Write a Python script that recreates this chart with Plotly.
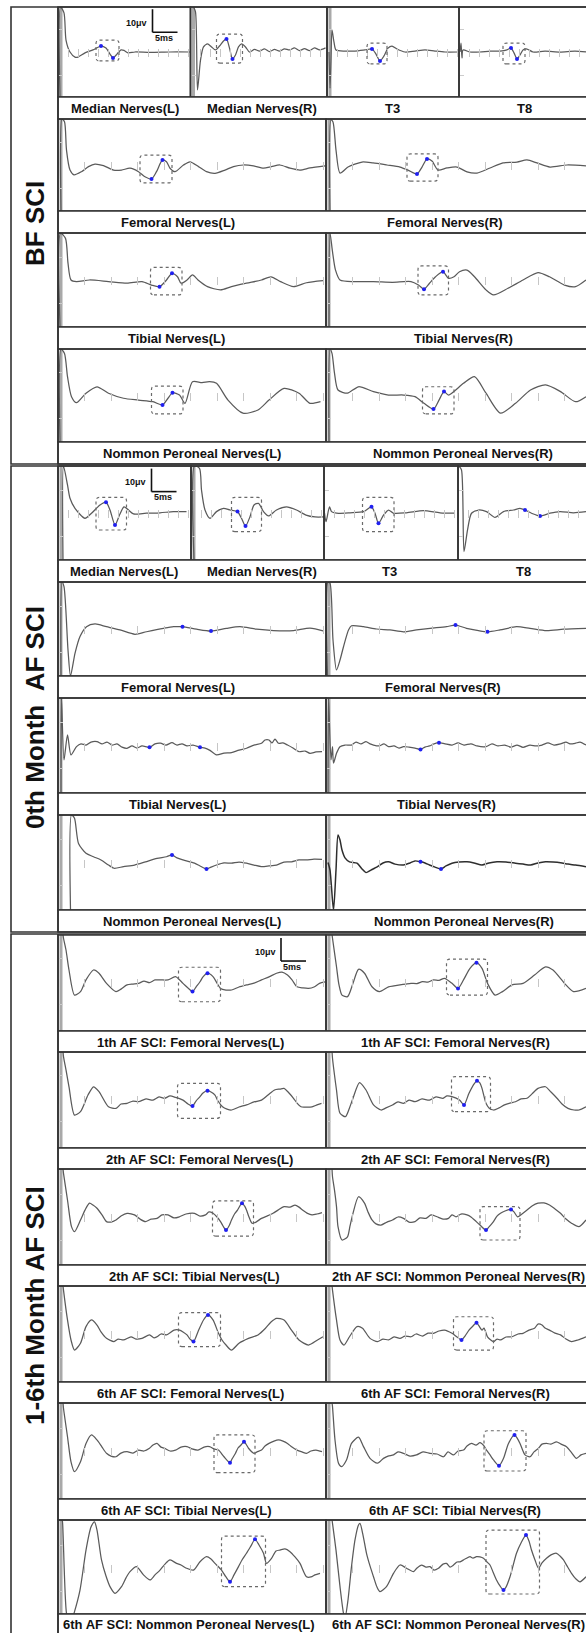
import plotly.graph_objects as go

W, H = 586, 1633
PX_PER_MS = 5.0   # horizontal scale shared by every recording
PX_PER_UV = 2.3   # vertical scale shared by every recording
SCALE_UV = 10     # calibration bar height, µV
SCALE_MS = 5      # calibration bar length, ms

# ---------------- recordings: (time in ms from panel edge, amplitude in µV) ----------------
# BF SCI
S1_MEDIAN_L = [(0.4, -19.6), (0.5, 19.6), (1.2, 17.0), (1.6, 5.2), (2.4, 0.0), (3.4, -2.2), (4.0, -2.2), (5.4, -0.4),
               (7.0, 0.9), (8.6, 2.6), (9.6, 1.7), (10.4, -0.9), (11.0, -2.6), (11.8, -0.9), (12.6, 0.9), (13.2, 0.7),
               (14.0, -0.4), (15.4, 0.0), (18.4, -0.2), (22.4, 0.0), (26.4, 0.0)]
S1_MEDIAN_R = [(0.6, 19.6), (1.0, 17.4), (1.4, -16.5), (2.0, -3.5), (2.6, 2.2), (3.4, 3.5), (4.2, 2.2), (5.0, 0.9),
               (5.8, 2.6), (6.6, 4.8), (7.2, 5.7), (7.8, 1.7), (8.4, -3.0), (9.0, -1.3), (9.6, 2.2), (10.2, 3.5),
               (11.0, 2.2), (11.8, 0.0), (12.8, 1.1), (13.8, 0.4), (14.8, 1.4), (15.8, 0.2), (16.8, 1.1), (17.8, 0.4),
               (18.8, 1.4), (19.8, 0.9), (20.8, 1.8), (21.8, 0.6), (22.8, 1.5), (23.8, 0.6), (24.8, 1.8), (25.8, 0.9),
               (27.0, 1.8)]
S1_T3 = [(0.4, 0.0), (0.6, -15.7), (0.8, -3.5), (1.0, 9.6), (1.4, 4.3), (1.8, 0.9), (3.6, 0.4), (5.6, 0.4), (7.6, 0.9),
         (9.0, 1.3), (9.8, -0.9), (10.6, -3.9), (11.4, -1.7), (12.2, 1.7), (13.0, 2.6), (14.0, 1.3), (15.6, 0.0),
         (17.6, 0.4), (19.6, 0.9), (21.6, 0.4), (23.6, 0.0), (26.2, 0.0)]
S1_T8 = [(0.2, 0.0), (0.4, 3.9), (0.6, -2.6), (0.8, 0.9), (2.2, 0.0), (4.2, 0.0), (6.2, 0.4), (8.2, 0.4), (9.6, 0.9),
         (10.4, 1.7), (11.0, -0.4), (11.6, -3.0), (12.2, -1.3), (12.8, 0.9), (13.6, 1.3), (14.8, 0.0), (17.2, 0.4),
         (20.2, 0.0), (23.2, 0.4), (25.4, 0.0)]
S1_FEMORAL_L = [(0.6, -20.0), (0.8, 20.0), (1.3, 18.8), (1.7, 6.5), (2.4, -2.2), (3.2, -4.3), (4.7, -2.9), (6.1, -0.7),
                (7.4, 0.4), (9.1, -0.3), (11.1, -2.2), (12.7, -2.2), (14.4, -1.4), (16.1, -2.9), (17.4, -5.1),
                (18.7, -6.1), (19.7, -2.9), (20.9, 2.2), (21.7, 1.4), (22.4, -1.4), (23.4, -2.9), (25.1, 0.0),
                (26.4, 1.4), (28.1, -0.7), (29.7, -2.9), (31.4, -3.6), (33.4, -2.2), (35.1, -0.7), (37.1, 0.0),
                (39.1, -0.4), (41.1, -1.4), (42.7, -0.7), (44.4, 0.0), (46.4, -1.4), (48.4, -2.2), (50.4, -1.3),
                (53.4, -0.4)]
S1_FEMORAL_R = [(0.8, -20.0), (1.0, 19.6), (1.4, 18.7), (2.0, 6.5), (2.8, -3.5), (4.4, -0.9), (7.2, 1.3), (9.4, 0.9),
                (12.2, 0.0), (14.8, -0.9), (16.4, -2.2), (18.2, -3.9), (19.2, -0.9), (20.2, 2.6), (21.2, 1.7),
                (22.4, -2.2), (24.2, -1.3), (26.2, -0.9), (28.2, -3.0), (30.2, -3.5), (32.8, -1.3), (35.4, 0.9),
                (38.2, 1.3), (40.2, 2.2), (42.2, 0.9), (44.8, -0.9), (48.2, 0.0), (52.0, -0.4)]
S1_TIBIAL_L = [(0.4, -20.4), (0.5, 20.4), (1.5, 18.1), (2.0, 7.3), (2.6, 0.0), (3.7, -0.7), (6.3, 0.0), (10.1, -0.7),
               (13.8, -1.4), (16.8, -0.7), (18.7, -2.2), (20.3, -2.9), (21.7, 0.0), (22.8, 2.9), (23.9, 1.4),
               (24.6, -1.4), (25.8, 0.0), (26.9, 2.2), (28.0, 0.0), (29.9, -2.9), (32.5, -4.3), (34.7, -2.9),
               (37.7, -1.4), (40.7, 0.0), (42.6, 1.4), (44.5, -0.7), (47.1, -2.9), (49.7, -1.2), (53.0, -0.3)]
S1_TIBIAL_R = [(0.6, -20.4), (0.8, 20.4), (1.3, 12.3), (1.9, 4.3), (2.8, 0.0), (5.8, -0.7), (9.5, -0.7), (13.3, -1.0),
               (17.0, -0.7), (18.5, -2.2), (19.6, -4.0), (20.7, -1.4), (21.9, 1.4), (23.4, 3.6), (24.5, 0.7),
               (25.6, 1.4), (26.7, 3.6), (28.2, 4.3), (29.7, 1.4), (32.0, -4.3), (33.5, -6.5), (36.4, -3.6),
               (39.4, 0.0), (42.4, 3.2), (44.7, 1.4), (47.7, -2.2), (49.9, -2.9), (52.0, 0.0)]
S1_PERONEAL_L = [(0.4, -20.2), (0.6, 20.2), (1.3, 18.3), (1.9, 8.2), (2.7, -0.5), (3.7, -3.1), (5.6, 1.0), (7.8, 3.8),
                 (10.1, 1.0), (13.1, -1.2), (16.1, -2.0), (19.0, -2.7), (20.9, -4.1), (22.0, -1.2), (22.9, 1.2),
                 (24.3, 0.2), (25.4, -3.4), (26.9, 6.0), (28.8, 5.6), (30.3, 6.0), (31.7, 5.3), (34.0, -2.0),
                 (37.0, -7.7), (40.0, -6.3), (42.2, -2.0), (45.2, 3.1), (48.2, 1.0), (50.4, -3.4), (52.5, -2.7)]
S1_PERONEAL_R = [(0.6, -20.2), (0.8, 20.2), (1.2, 18.3), (1.7, 9.7), (2.4, 2.4), (4.3, 1.0), (6.5, 3.8), (9.5, 1.7),
                 (12.5, 0.2), (15.5, 0.2), (17.8, -0.5), (19.6, -3.4), (21.5, -5.9), (22.6, -2.0), (23.6, 1.7),
                 (24.5, 0.2), (27.5, 5.3), (29.7, 8.2), (32.0, 1.0), (34.9, -7.7), (37.9, -3.4), (40.9, 2.4),
                 (43.9, 4.6), (46.9, 1.7), (49.9, -2.7), (52.0, -0.5)]

# 0th month AF SCI
S2_MEDIAN_L = [(1.0, -20.4), (1.1, 20.4), (1.9, 12.2), (2.4, 6.4), (3.4, 2.0), (5.4, -2.3), (6.7, -0.1), (8.4, 3.5),
               (9.6, 4.7), (10.4, 1.3), (11.4, -5.2), (12.3, -0.9), (13.2, 2.7), (14.1, 1.3), (15.1, -0.4),
               (17.7, -0.1), (20.4, 0.1), (23.1, 0.6), (25.7, 0.6)]
S2_MEDIAN_R = [(0.6, -20.4), (0.7, 20.4), (1.7, 19.4), (2.1, 10.0), (2.8, 1.3), (3.8, -2.3), (5.1, 0.6), (6.5, 2.0),
               (7.8, 1.3), (9.3, 0.6), (10.1, -2.3), (10.9, -5.7), (11.8, -1.6), (12.6, 3.5), (13.5, 4.2), (14.5, 0.6),
               (15.5, -1.3), (17.1, 1.3), (19.1, 2.7), (21.1, 1.3), (23.0, -0.9), (24.8, -1.7), (26.6, -1.7)]
S2_T3 = [(0.1, 0.0), (0.4, -3.8), (1.1, 2.7), (1.5, 0.6), (2.5, -0.1), (5.2, 0.1), (7.9, 0.6), (9.5, 2.7), (10.2, -0.1),
         (10.9, -4.5), (11.9, -0.9), (12.9, 1.3), (13.9, -0.1), (16.5, 0.1), (19.9, 1.0), (23.2, 0.1), (26.2, -0.1)]
S2_T8 = [(0.2, 20.4), (0.7, 18.7), (1.2, -16.8), (1.9, -7.4), (2.7, -0.1), (4.1, 1.3), (5.7, 0.6), (7.4, -1.9),
         (9.1, 0.6), (11.1, 1.3), (12.4, 2.0), (13.4, 1.3), (14.7, -0.1), (16.4, -1.3), (18.4, -0.1), (20.4, 0.6),
         (23.1, 0.1), (25.6, 0.6)]
S2_FEMORAL_L = [(0.6, -20.4), (0.8, 20.4), (1.2, 18.4), (2.0, -9.1), (2.5, -20.4), (3.4, -10.6), (4.4, -3.3),
                (5.7, 1.0), (7.4, 2.2), (9.7, 1.0), (12.4, -0.4), (15.4, -2.3), (17.7, -1.2), (21.1, 0.3), (23.1, 1.0),
                (24.9, 1.0), (27.7, -0.1), (30.6, -0.9), (33.7, 0.3), (36.4, 1.0), (39.7, -0.1), (43.1, -0.7),
                (47.1, -0.7), (50.4, 0.4), (53.2, -0.9)]
S2_FEMORAL_R = [(0.3, -20.4), (0.4, 20.4), (0.8, 19.9), (1.4, -4.8), (2.1, -17.8), (2.8, -13.5), (3.5, -7.7),
                (4.5, -0.4), (5.1, 1.4), (7.5, 1.0), (10.1, 0.0), (12.8, -0.4), (15.5, -1.2), (18.1, -0.4), (20.8, 0.3),
                (24.1, 1.0), (25.9, 1.7), (28.1, 0.3), (30.5, -0.7), (32.3, -1.2), (34.8, -0.4), (38.1, 1.0),
                (40.8, 0.3), (44.1, -0.7), (47.5, -0.1), (52.0, 0.3)]
S2_TIBIAL_L = [(0.6, -20.7), (0.7, 20.7), (1.2, -6.3), (1.9, 4.6), (2.6, -4.1), (3.7, -0.5), (4.6, 0.7), (5.6, 0.2),
               (6.6, 1.5), (7.8, 1.7), (8.8, 0.7), (9.8, 1.5), (10.8, 0.2), (11.8, 0.7), (12.8, -0.7), (13.8, -1.2),
               (14.8, -0.2), (15.8, -1.1), (16.8, -0.2), (18.3, -0.8), (19.4, 0.7), (20.5, 1.0), (21.6, 0.2),
               (22.8, 1.2), (23.8, 0.2), (24.8, 0.7), (25.8, -0.2), (27.0, 0.2), (28.4, -0.8), (29.4, -1.1),
               (30.3, -2.0), (31.7, -4.1), (33.2, -3.3), (34.7, -3.1), (36.2, -2.0), (37.7, -1.2), (39.2, 0.2),
               (40.7, 1.0), (41.4, 2.4), (42.2, 2.4), (42.8, 1.1), (43.4, 2.8), (44.1, 1.0), (45.0, 1.1), (45.9, 0.2),
               (47.0, -1.1), (48.2, -2.7), (49.4, -2.4), (50.4, -3.4), (51.6, -2.8), (52.8, -2.7)]
S2_TIBIAL_R = [(0.4, -20.7), (0.5, 20.7), (1.0, -6.3), (1.3, -0.5), (1.5, -7.7), (2.1, -3.4), (2.8, -0.5), (3.8, 0.2),
               (5.1, 0.2), (6.0, 1.5), (7.0, 0.7), (8.0, 1.7), (8.8, 0.7), (9.5, 0.2), (10.6, -0.2), (11.6, 0.7),
               (12.5, -0.5), (13.6, -0.2), (14.6, -1.1), (15.5, -0.5), (16.6, -0.7), (17.8, -1.1), (18.9, -1.7),
               (19.8, -0.7), (20.7, -0.2), (21.6, 0.7), (22.6, 1.2), (23.8, 0.7), (25.2, 0.2), (26.4, 1.1),
               (27.6, 0.2), (29.0, 0.7), (30.2, -0.2), (32.0, -0.5), (33.2, 0.7), (34.4, -0.2), (35.7, 0.2),
               (37.0, -0.7), (38.2, 0.2), (39.4, -0.8), (40.8, 0.2), (42.0, -0.2), (43.2, 0.2), (44.4, 1.1),
               (45.6, 0.2), (46.9, 0.7), (48.0, 1.5), (48.8, 0.7), (49.9, 1.0), (50.8, 1.5), (52.0, 0.2)]
S2_PERONEAL_L = [(2.5, -20.7), (2.7, 20.7), (3.3, 19.2), (4.1, 8.3), (5.6, 4.0), (7.1, 2.5), (8.6, 1.1), (10.1, -1.1),
                 (11.2, -2.5), (13.1, -1.8), (15.3, -1.1), (17.5, 0.3), (19.8, 1.8), (21.7, 2.5), (22.8, 3.3),
                 (23.8, 2.0), (25.0, 1.1), (27.3, -0.3), (28.4, -1.5), (29.7, -2.8), (30.6, -2.0), (31.7, -1.1),
                 (33.2, -0.2), (34.7, -0.3), (36.2, 0.2), (37.7, -0.3), (39.2, -1.1), (40.7, -1.8), (42.2, -1.5),
                 (43.7, -1.1), (45.2, 0.2), (46.7, 0.3), (48.2, 1.1), (49.7, 1.1), (51.2, 1.5), (52.8, 1.4)]
S2_PERONEAL_R = [(0.4, 0.0), (0.8, -3.3), (1.5, -20.7), (2.0, -3.3), (2.4, 12.0), (2.8, 9.8), (3.2, 5.4), (3.8, 2.0),
                 (4.7, 0.3), (6.2, -0.3), (7.2, -2.8), (8.0, -4.4), (9.0, -3.3), (10.3, -1.8), (11.4, -0.2),
                 (12.5, 0.3), (13.8, -0.7), (15.5, -1.1), (16.8, -0.2), (17.8, 0.7), (18.9, 0.3), (19.8, -0.2),
                 (20.7, -1.1), (21.8, -2.0), (23.0, -2.8), (24.0, -1.5), (25.2, -0.3), (26.6, 0.2), (28.2, 0.3),
                 (29.6, -0.2), (31.2, -1.1), (32.6, -0.2), (34.2, 0.3), (36.0, 0.2), (37.9, -0.3), (39.4, -0.7),
                 (40.9, -1.1), (42.4, -0.2), (43.9, 0.3), (45.4, 0.2), (46.9, -0.1), (48.4, -0.7), (49.9, -1.1),
                 (52.0, -1.8)]

# 1-6th month AF SCI
S3_M1_FEMORAL_L = [(1.0, 20.5), (1.1, 18.8), (1.6, 13.7), (2.2, 5.0), (3.3, -5.9), (4.5, -4.4), (5.6, 0.7), (7.1, 5.0),
                   (8.2, 3.6), (9.7, -0.8), (11.6, -4.4), (12.6, -3.3), (13.8, -1.5), (15.0, -1.1), (16.1, -0.8),
                   (17.2, 0.2), (18.3, -0.5), (19.4, 0.7), (20.5, 0.7), (22.0, 0.7), (23.5, 2.1), (25.0, -0.8),
                   (26.0, -2.8), (26.9, -4.4), (27.6, -2.4), (28.4, -0.1), (29.0, 2.0), (29.9, 3.6), (31.0, 2.1),
                   (31.8, -0.7), (32.5, -3.0), (33.6, -3.7), (34.7, -3.7), (36.2, -2.4), (37.7, -1.5), (39.2, -0.7),
                   (40.7, 0.7), (42.2, 2.0), (43.7, 3.6), (44.8, 4.1), (45.9, 2.8), (46.8, 0.7), (47.8, -2.3),
                   (49.0, -2.8), (50.1, -3.0), (51.2, -2.4), (52.3, -0.8), (53.4, -0.2)]
S3_M1_FEMORAL_R = [(1.2, 20.5), (1.3, 18.8), (2.1, 6.4), (2.6, -1.5), (3.2, -5.9), (4.3, -6.6), (5.4, -0.8), (6.5, 5.3),
                   (7.7, 3.6), (9.2, -2.3), (10.7, -4.4), (12.5, -2.3), (13.6, -1.9), (14.8, -1.5), (16.0, -1.1),
                   (17.0, -0.8), (18.2, -0.9), (19.3, -0.1), (20.4, -0.3), (21.5, 0.7), (22.6, 0.5), (23.7, 1.4),
                   (25.2, -0.8), (26.4, -3.0), (27.5, 0.7), (28.8, 5.7), (30.1, 8.2), (31.2, 5.7), (32.3, -0.8),
                   (33.8, -5.9), (35.3, -4.4), (37.2, -1.5), (39.4, -0.8), (41.7, 2.8), (43.9, 6.4), (45.4, 5.0),
                   (47.7, -0.8), (49.5, -4.4), (52.0, -3.0)]
S3_M2_FEMORAL_L = [(1.0, 20.5), (1.1, 18.2), (1.6, 12.4), (2.2, 5.1), (3.3, -7.2), (4.5, -5.7), (6.0, 1.5), (7.1, 5.1),
                   (8.2, 3.0), (10.1, -3.6), (11.6, -4.3), (12.6, -2.4), (13.8, -2.1), (15.0, -1.1), (16.1, -1.4),
                   (17.6, -0.2), (19.0, -0.7), (20.2, 0.7), (21.3, 0.1), (22.4, 1.1), (23.5, 0.5), (25.0, -0.7),
                   (26.0, -2.4), (26.9, -3.3), (27.6, -1.1), (28.4, 0.8), (29.0, 2.4), (29.9, 3.4), (30.6, 2.8),
                   (31.4, 1.5), (32.0, -1.1), (32.9, -3.6), (33.8, -4.6), (34.7, -5.0), (36.2, -3.7), (37.7, -2.8),
                   (39.2, -1.5), (40.7, -0.7), (42.0, 1.5), (43.3, 3.7), (44.4, 4.1), (45.2, 4.4), (46.2, 2.4),
                   (47.1, 0.1), (47.8, -2.0), (48.6, -3.6), (49.6, -3.7), (50.8, -3.6), (51.8, -2.8), (52.7, -2.1)]
S3_M2_FEMORAL_R = [(1.2, 20.5), (1.3, 17.5), (1.7, 10.2), (2.1, 3.7), (2.8, -6.4), (3.9, -7.9), (4.7, -4.1),
                   (5.4, 0.1), (6.7, 6.9), (8.0, 3.7), (9.5, -2.8), (11.0, -5.0), (12.0, -4.1), (13.3, -2.8),
                   (14.4, -1.5), (15.5, -2.1), (16.6, -0.7), (17.8, -1.4), (19.2, -0.2), (20.7, -0.7), (22.0, 0.7),
                   (23.4, 0.1), (24.2, 1.1), (25.2, 0.8), (26.7, -0.7), (27.6, -2.8), (28.6, 2.3), (29.7, 6.6),
                   (30.2, 7.7), (30.8, 6.7), (31.2, 4.4), (32.0, -2.1), (32.6, -4.1), (33.5, -5.0), (34.6, -4.1),
                   (35.7, -2.8), (36.8, -2.0), (37.9, -1.4), (39.0, -0.2), (40.2, 0.1), (41.2, 2.0), (42.4, 4.4),
                   (43.9, 5.1), (45.0, 2.8), (46.2, 0.1), (47.2, -2.4), (48.4, -4.3), (49.6, -5.0), (50.6, -5.0),
                   (52.0, -3.6)]
S3_M2_TIBIAL_L = [(1.0, 21.0), (1.1, 19.0), (1.9, 7.4), (2.7, -4.2), (3.3, -6.4), (4.5, -1.3), (5.4, 3.0), (6.3, 6.0),
                  (7.0, 5.2), (7.8, 3.8), (8.8, 0.9), (9.7, -2.0), (10.6, -2.2), (11.6, -1.3), (12.6, 0.4),
                  (13.8, 1.6), (15.3, 0.9), (16.4, -0.9), (17.5, -2.0), (18.6, -0.9), (19.8, -0.6), (20.8, 0.9),
                  (22.0, 0.9), (23.2, -0.4), (24.3, 0.1), (25.6, 1.3), (27.3, 1.6), (28.4, 0.4), (29.5, 0.9),
                  (30.2, 2.2), (31.0, 1.6), (31.8, 0.0), (32.5, -2.0), (33.0, -3.9), (33.6, -5.7), (34.2, -3.9),
                  (34.7, -1.3), (35.3, 1.3), (35.9, 3.0), (36.8, 6.0), (37.3, 4.8), (37.7, 3.0), (38.2, 0.0),
                  (38.8, -2.7), (39.6, -2.2), (40.7, -0.6), (41.8, 0.4), (43.0, 1.6), (44.0, 3.0), (45.2, 4.5),
                  (46.4, 4.3), (47.4, 5.2), (48.2, 4.3), (48.9, 3.0), (49.8, 1.7), (50.8, 0.9), (51.8, 1.3),
                  (52.8, 1.9)]
S3_M2_PERONEAL_R = [(1.2, 21.0), (1.3, 17.5), (1.7, 11.7), (2.1, 4.5), (2.4, -4.2), (3.2, -10.0), (4.3, -8.6),
                    (4.8, -3.9), (5.4, 1.6), (6.5, 8.8), (7.7, 6.0), (8.4, 2.2), (9.2, -1.3), (10.0, -3.0),
                    (11.0, -3.5), (12.2, -2.2), (13.3, -1.3), (14.4, 0.0), (15.5, -0.6), (16.6, -2.2), (17.8, -2.0),
                    (18.8, -0.4), (20.0, -0.6), (21.0, 0.9), (22.2, 0.1), (23.4, -0.9), (24.5, -0.6), (25.2, 0.9),
                    (26.0, 0.1), (27.0, 1.3), (28.2, 0.9), (29.0, 0.0), (29.7, -1.3), (30.8, -3.5), (32.0, -5.7),
                    (32.6, -4.3), (33.5, -2.0), (34.2, 0.4), (34.9, 1.6), (35.8, 2.6), (37.0, 3.3), (37.6, 2.2),
                    (38.3, 0.1), (39.2, 1.3), (40.2, 3.0), (41.2, 4.8), (42.4, 6.0), (43.6, 6.1), (44.7, 5.2),
                    (45.8, 3.5), (46.9, 1.6), (48.0, -0.9), (49.1, -2.7), (50.6, -4.2), (52.0, -1.3)]
S3_M6_FEMORAL_L = [(1.0, 21.0), (1.1, 19.1), (1.9, 6.1), (2.6, -2.6), (3.3, -7.0), (4.5, -4.0), (5.6, 3.2), (6.7, 6.1),
                   (7.8, 3.9), (8.6, 0.9), (9.7, -1.9), (11.2, -3.3), (12.0, -2.2), (13.1, -2.6), (14.6, -1.2),
                   (15.6, -2.2), (16.8, -1.9), (18.3, -0.4), (19.2, -1.7), (19.8, -1.2), (20.6, 0.0), (21.7, -0.4),
                   (23.2, 1.7), (24.3, 1.7), (25.0, 0.9), (25.8, -0.4), (26.4, -2.2), (27.1, -3.3), (28.0, 1.0),
                   (29.1, 6.1), (30.0, 8.3), (31.0, 6.1), (32.1, 0.3), (32.8, -2.6), (33.6, -4.8), (34.7, -7.0),
                   (36.2, -4.0), (38.1, -1.9), (40.0, -0.4), (41.5, 2.5), (42.6, 5.2), (43.7, 6.8), (45.2, 6.1),
                   (46.7, 1.7), (48.2, -2.6), (50.1, -4.8), (51.9, -2.6), (53.0, -1.2)]
S3_M6_FEMORAL_R = [(1.2, 21.0), (1.3, 19.1), (2.1, 6.1), (2.8, -2.6), (3.6, -4.8), (4.7, -1.2), (6.2, 3.2), (7.3, 2.5),
                   (8.8, -1.9), (10.3, -3.3), (11.4, -2.2), (12.5, -2.6), (13.6, -1.3), (14.8, -1.9), (15.8, -0.9),
                   (17.0, -1.2), (18.0, 0.0), (19.3, -0.9), (20.4, 0.4), (21.5, 0.3), (22.6, 1.3), (23.7, 1.7),
                   (25.2, 0.3), (26.2, -1.3), (27.1, -2.6), (27.8, -0.9), (28.6, 1.7), (29.4, 3.5), (30.1, 4.9),
                   (30.6, 3.5), (31.2, 1.7), (31.6, 2.6), (32.3, -1.2), (33.5, -3.3), (34.2, -2.2), (34.9, -2.6),
                   (36.0, -1.3), (37.2, -1.2), (38.4, 0.0), (39.4, 0.3), (40.6, 1.7), (41.7, 2.5), (42.4, 4.3),
                   (43.2, 3.9), (43.8, 2.6), (44.7, 1.7), (45.8, 0.4), (46.9, -0.4), (48.0, -2.2), (49.1, -3.3),
                   (50.4, -2.6), (52.0, -1.2)]
S3_M6_TIBIAL_L = [(1.0, 21.0), (1.1, 18.6), (1.9, 6.2), (2.6, -4.7), (3.3, -9.0), (4.5, -4.7), (5.6, 3.3), (6.7, 7.0),
                  (7.8, 4.8), (8.8, 1.7), (9.7, -1.0), (10.6, -2.2), (11.6, -2.5), (12.6, -0.9), (13.8, -0.3),
                  (15.0, -0.9), (16.1, 0.4), (17.2, 0.0), (18.3, 1.2), (19.0, 2.6), (19.8, 3.3), (20.6, 1.7),
                  (21.3, 1.2), (22.4, 0.0), (23.5, 0.4), (24.6, 1.7), (25.8, 1.9), (26.8, 0.9), (28.0, 0.4),
                  (29.2, 1.7), (30.3, 1.9), (31.2, 0.9), (32.1, 0.4), (33.2, -2.5), (34.4, -5.1), (34.8, -3.5),
                  (35.5, -1.0), (36.0, 1.3), (36.6, 2.6), (37.2, 4.0), (37.6, 3.0), (38.1, 1.2), (39.2, -1.0),
                  (39.8, -0.4), (40.7, 0.4), (41.4, 2.2), (42.2, 3.3), (43.2, 4.3), (44.1, 4.8), (45.0, 4.3),
                  (45.9, 3.3), (46.8, 1.7), (47.8, 0.4), (48.8, -0.4), (49.7, -1.0), (50.6, 0.0), (51.6, 0.4),
                  (52.8, -0.3)]
S3_M6_TIBIAL_R = [(1.2, 21.0), (1.3, 19.3), (1.8, 4.8), (2.5, -5.3), (3.1, -6.8), (4.1, -3.9), (5.1, 3.3), (6.5, 6.0),
                  (7.5, 1.9), (8.8, -3.2), (10.3, -5.3), (11.5, -3.2), (12.4, -2.2), (13.5, -1.7), (14.4, -0.4),
                  (15.5, -1.0), (16.8, -2.2), (18.1, -1.7), (19.4, -0.4), (20.8, -1.0), (22.2, -1.3), (23.5, -2.5),
                  (24.4, -0.4), (25.5, -1.7), (26.4, 0.0), (27.5, 0.4), (28.2, 2.2), (29.1, 3.3), (30.0, 2.6),
                  (30.8, 3.6), (31.6, 2.2), (32.1, 0.4), (32.8, -1.7), (33.5, -3.9), (34.6, -6.4), (35.5, -3.2),
                  (36.5, 3.3), (37.7, 7.0), (38.2, 5.7), (38.8, 3.3), (39.8, -1.7), (40.8, -2.5), (41.6, -0.4),
                  (42.5, 1.2), (43.2, 3.0), (44.1, 3.3), (45.0, 3.0), (46.1, 4.0), (47.0, 3.0), (48.1, 1.9),
                  (49.0, -0.4), (50.1, -3.2), (51.0, -1.7), (52.0, -1.0)]
S3_M6_PERONEAL_L = [(0.8, 21.0), (0.9, 20.1), (1.7, -19.7), (2.4, -24.8), (3.2, -19.7), (4.4, -9.6), (5.6, 7.8),
                    (6.6, 17.8), (7.3, 20.1), (7.8, 16.5), (8.7, 3.5), (9.6, -3.5), (10.4, -8.1), (11.4, -11.0),
                    (12.7, -8.1), (13.6, -4.3), (14.4, -1.6), (15.7, 0.6), (17.1, -3.0), (18.4, -5.2), (19.4, -3.0),
                    (20.4, -0.9), (21.4, 1.7), (22.4, 3.5), (23.7, 2.0), (24.6, 1.3), (25.7, -0.1), (27.1, -0.9),
                    (28.4, 2.7), (29.7, 4.9), (30.6, 3.9), (31.4, 2.0), (32.7, -0.9), (33.6, -3.9), (34.4, -6.0),
                    (35.2, -3.0), (36.1, 0.6), (36.8, 3.5), (37.7, 6.4), (38.6, 9.6), (39.4, 12.5), (40.2, 10.0),
                    (41.1, 6.4), (41.7, 2.0), (42.7, 4.2), (43.6, 7.4), (44.4, 7.8), (45.4, 8.3), (46.4, 7.1),
                    (47.4, 4.8), (48.4, 2.0), (49.7, -3.8), (50.6, -3.9), (51.4, -3.0), (52.4, -2.3)]
S3_M6_PERONEAL_R = [(1.2, 21.0), (1.3, 19.4), (2.0, 7.8), (2.8, -8.1), (3.5, -19.7), (3.8, -21.7), (4.4, -13.9),
                    (5.1, 0.6), (5.8, 12.2), (6.5, 18.7), (6.8, 19.4), (7.4, 14.3), (8.1, 6.4), (8.8, 0.9),
                    (9.5, -3.8), (10.2, -8.3), (10.8, -10.3), (12.1, -8.1), (13.5, -2.3), (14.8, 1.3), (16.1, -0.1),
                    (17.5, -1.6), (18.2, 0.0), (19.1, 1.3), (20.0, 0.4), (20.8, 0.6), (21.6, -0.9), (22.5, -0.1),
                    (23.4, 1.7), (24.1, 2.0), (24.8, 0.4), (25.5, 1.3), (26.2, 2.6), (26.8, 2.7), (27.8, 3.9),
                    (28.8, 4.9), (29.4, 4.3), (30.1, 4.9), (30.8, 4.8), (31.5, 4.2), (32.2, 2.6), (32.8, 1.3),
                    (33.4, -1.7), (34.1, -5.2), (34.8, -7.8), (35.5, -9.6), (36.0, -8.3), (36.8, -3.8), (37.4, 0.9),
                    (38.1, 6.4), (39.0, 10.9), (40.0, 14.3), (40.6, 11.7), (41.1, 7.8), (41.8, 3.5), (42.5, -0.1),
                    (43.2, 2.2), (44.1, 4.2), (45.0, 5.7), (46.1, 6.4), (46.8, 5.2), (47.5, 3.5), (48.2, 0.9),
                    (49.1, -2.3), (50.0, -4.8), (50.8, -6.0), (52.0, -3.8)]

# ---------------- marked latencies (ms) and response windows [t0, t1, v0, v1] ----------------
PEAKS = {
    "S1_MEDIAN_L": [8.6, 11.0], "S1_MEDIAN_R": [7.2, 8.4], "S1_T3": [9.0, 10.6], "S1_T8": [10.4, 11.6],
    "S1_FEMORAL_L": [18.7, 20.9], "S1_FEMORAL_R": [18.2, 20.2], "S1_TIBIAL_L": [20.3, 22.8],
    "S1_TIBIAL_R": [19.6, 23.4], "S1_PERONEAL_L": [20.9, 22.9], "S1_PERONEAL_R": [21.5, 23.6],
    "S2_MEDIAN_L": [9.6, 11.4], "S2_MEDIAN_R": [9.3, 10.9], "S2_T3": [9.5, 10.9], "S2_T8": [13.4, 16.4],
    "S2_FEMORAL_L": [24.9, 30.6], "S2_FEMORAL_R": [25.9, 32.3], "S2_TIBIAL_L": [18.3, 28.4],
    "S2_TIBIAL_R": [18.9, 22.6], "S2_PERONEAL_L": [22.8, 29.7], "S2_PERONEAL_R": [18.9, 23.0],
    "S3_M1_FEMORAL_L": [26.9, 29.9], "S3_M1_FEMORAL_R": [26.4, 30.1], "S3_M2_FEMORAL_L": [26.9, 29.9],
    "S3_M2_FEMORAL_R": [27.6, 30.2], "S3_M2_TIBIAL_L": [33.6, 36.8], "S3_M2_PERONEAL_R": [32.0, 37.0],
    "S3_M6_FEMORAL_L": [27.1, 30.0], "S3_M6_FEMORAL_R": [27.1, 30.1], "S3_M6_TIBIAL_L": [34.4, 37.2],
    "S3_M6_TIBIAL_R": [34.6, 37.7], "S3_M6_PERONEAL_L": [34.4, 39.4], "S3_M6_PERONEAL_R": [35.5, 40.0],
}
WINDOWS = {
    "S1_MEDIAN_L": [7.6, 12.2, -3.9, 5.2], "S1_MEDIAN_R": [5.2, 10.4, -4.8, 7.8], "S1_T3": [8.0, 12.0, -5.2, 3.9],
    "S1_T8": [8.8, 13.2, -5.2, 3.9], "S1_FEMORAL_L": [16.4, 22.8, -7.8, 4.3], "S1_FEMORAL_R": [16.2, 22.4, -7.0, 4.8],
    "S1_TIBIAL_L": [18.5, 24.8, -6.5, 5.5], "S1_TIBIAL_R": [18.4, 24.5, -6.5, 6.1],
    "S1_PERONEAL_L": [18.7, 25.0, -8.0, 4.1], "S1_PERONEAL_R": [19.3, 25.6, -8.0, 3.8],
    "S2_MEDIAN_L": [7.6, 13.7, -7.4, 6.8], "S2_MEDIAN_R": [8.1, 14.1, -8.1, 6.8], "S2_T3": [7.7, 14.0, -8.1, 6.8],
    "S3_M1_FEMORAL_L": [24.1, 32.5, -8.8, 6.2], "S3_M1_FEMORAL_R": [24.1, 32.3, -5.9, 9.7],
    "S3_M2_FEMORAL_L": [23.9, 32.5, -8.6, 6.6], "S3_M2_FEMORAL_R": [25.1, 32.9, -5.7, 9.5],
    "S3_M2_TIBIAL_L": [30.9, 39.1, -8.3, 7.0], "S3_M2_PERONEAL_R": [30.8, 38.8, -10.0, 4.5],
    "S3_M6_FEMORAL_L": [24.1, 32.5, -5.5, 9.3], "S3_M6_FEMORAL_R": [25.5, 33.5, -7.0, 7.5],
    "S3_M6_TIBIAL_L": [31.2, 39.4, -9.4, 7.0], "S3_M6_TIBIAL_R": [31.6, 40.0, -8.7, 8.8],
    "S3_M6_PERONEAL_L": [32.7, 41.5, -8.1, 13.9], "S3_M6_PERONEAL_R": [32.0, 42.7, -11.3, 16.5],
}

# ---------------- panel captions ----------------
S1_LABELS = [["Median Nerves(L)", "Median Nerves(R)", "T3", "T8"], ["Femoral Nerves(L)", "Femoral Nerves(R)"],
             ["Tibial Nerves(L)", "Tibial Nerves(R)"], ["Nommon Peroneal Nerves(L)", "Nommon Peroneal Nerves(R)"]]
S2_LABELS = S1_LABELS
S3_LABELS = [["1th AF SCI: Femoral Nerves(L)", "1th AF SCI: Femoral Nerves(R)"],
             ["2th AF SCI: Femoral Nerves(L)", "2th AF SCI: Femoral Nerves(R)"],
             ["2th AF SCI: Tibial Nerves(L)", "2th AF SCI: Nommon Peroneal Nerves(R)"],
             ["6th AF SCI: Femoral Nerves(L)", "6th AF SCI: Femoral Nerves(R)"],
             ["6th AF SCI: Tibial Nerves(L)", "6th AF SCI: Tibial Nerves(R)"],
             ["6th AF SCI: Nommon Peroneal Nerves(L)", "6th AF SCI: Nommon Peroneal Nerves(R)"]]
SECTION_TITLES = ["BF SCI", "0th Month\u00a0 AF SCI", "1-6th Month AF SCI"]

DATA = {k: v for k, v in globals().items() if k.startswith(("S1_", "S2_", "S3_")) and isinstance(v, list)
        and v and isinstance(v[0], tuple)}

# ---------------- page geometry (pixels) ----------------
# each row: (top, plot bottom, strip bottom, zero line, column edges, recordings, caption centres)
ROWS = [
    (7, 97, 119, 52, [58, 190.5, 327, 459, 590], ["S1_MEDIAN_L", "S1_MEDIAN_R", "S1_T3", "S1_T8"], [125, 262, 392, 524]),
    (119, 211, 233, 165, [58, 326, 590], ["S1_FEMORAL_L", "S1_FEMORAL_R"], [178, 445]),
    (233, 327, 349, 280, [58, 326, 590], ["S1_TIBIAL_L", "S1_TIBIAL_R"], [176, 463]),
    (349, 442, 464, 395.5, [58, 326, 590], ["S1_PERONEAL_L", "S1_PERONEAL_R"], [192, 463]),
    (466, 560, 582, 513, [58, 191, 324, 458, 590], ["S2_MEDIAN_L", "S2_MEDIAN_R", "S2_T3", "S2_T8"], [124, 262, 389, 523]),
    (582, 676, 698, 629, [58, 326, 590], ["S2_FEMORAL_L", "S2_FEMORAL_R"], [178, 443]),
    (698, 793, 815, 745.5, [58, 326, 590], ["S2_TIBIAL_L", "S2_TIBIAL_R"], [177, 446]),
    (815, 910, 932, 862.5, [58, 326, 590], ["S2_PERONEAL_L", "S2_PERONEAL_R"], [192, 464]),
    (935, 1031, 1052, 981.5, [58, 326, 590], ["S3_M1_FEMORAL_L", "S3_M1_FEMORAL_R"], [190, 455]),
    (1052, 1148, 1169, 1098.5, [58, 326, 590], ["S3_M2_FEMORAL_L", "S3_M2_FEMORAL_R"], [199, 455]),
    (1169, 1265, 1286, 1217, [58, 326, 590], ["S3_M2_TIBIAL_L", "S3_M2_PERONEAL_R"], [194, 458]),
    (1286, 1382, 1403, 1334, [58, 326, 590], ["S3_M6_FEMORAL_L", "S3_M6_FEMORAL_R"], [190, 455]),
    (1403, 1499, 1520, 1451, [58, 326, 590], ["S3_M6_TIBIAL_L", "S3_M6_TIBIAL_R"], [186, 455]),
    (1520, 1614, 1640, 1568, [58, 326, 590], ["S3_M6_PERONEAL_L", "S3_M6_PERONEAL_R"], [189, 458]),
]
CAPTIONS = [c for labels in (S1_LABELS, S2_LABELS, S3_LABELS) for c in labels]
SECTIONS = [(7, 464, 224), (466, 932, 718), (934, 1640, 1306)]  # top, bottom, title centre
NO_STIM_BAR = {"S1_T8", "S2_T3", "S2_T8"}
DARK_TRACES = {"S2_PERONEAL_R"}
# calibration bars: recording, bar corner (ms, µV)
CALIBRATION = [("S1_MEDIAN_L", 18.9, 8.6), ("S2_MEDIAN_L", 18.7, 9.3), ("S3_M1_FEMORAL_L", 44.6, 8.9)]

FRAME = "#333333"
TRACE = "#5a5a5a"
PEAK = "#2020f0"
FONT = "Arial, Liberation Sans, sans-serif"


def py(y):
    return 1 - y / H


fig = go.Figure()
shapes, annotations, axes = [], [], {}
refs = {}
n = 0

for (top, pbot, sbot, zero, edges, names, cx), captions in zip(ROWS, CAPTIONS):
    for i, name in enumerate(names):
        n += 1
        x0, x1 = edges[i], edges[i + 1]
        xr = "x" if n == 1 else f"x{n}"
        yr = "y" if n == 1 else f"y{n}"
        refs[name] = (xr, yr)
        xr_vis = min(x1, W)
        axes["xaxis" if n == 1 else f"xaxis{n}"] = dict(
            domain=[x0 / W, xr_vis / W], range=[0, (xr_vis - x0) / PX_PER_MS], anchor="free",
            position=py(zero - 4), showgrid=False, zeroline=False, showline=False, showticklabels=False,
            ticks="outside", ticklen=8, tickwidth=1, tickcolor="#c6c6c6", tick0=0,
            dtick=2.0 if len(names) == 4 else 5.3, fixedrange=True)
        axes["yaxis" if n == 1 else f"yaxis{n}"] = dict(
            domain=[py(pbot), py(top)], range=[(zero - pbot) / PX_PER_UV, (zero - top) / PX_PER_UV],
            anchor="free", position=x0 / W, showgrid=False, zeroline=False, showline=False,
            showticklabels=False, ticks="inside", ticklen=4, tickcolor="#cccccc", tickvals=[-10, 10],
            fixedrange=True)

        pts = DATA[name]
        t = [p[0] for p in pts]
        v = [p[1] for p in pts]
        dark = name in DARK_TRACES
        fig.add_trace(go.Scatter(
            x=t, y=v, mode="lines", xaxis=xr, yaxis=yr, hoverinfo="skip",
            line=dict(color="#2e2e2e" if dark else TRACE, width=1.5 if dark else 1.25, shape="spline",
                      smoothing=0.7)))
        pk = PEAKS[name]
        fig.add_trace(go.Scatter(
            x=pk, y=[v[t.index(p)] for p in pk], mode="markers", xaxis=xr, yaxis=yr, hoverinfo="skip",
            marker=dict(color=PEAK, size=4)))

        # stimulus edge and panel frame
        if name not in NO_STIM_BAR:
            shapes.append(dict(type="line", xref="paper", yref="paper", x0=(x0 + 3) / W, x1=(x0 + 3) / W,
                               y0=py(pbot), y1=py(top), line=dict(color="#a9a9a9", width=3), layer="below"))
        shapes.append(dict(type="rect", xref="paper", yref="paper", x0=x0 / W, x1=x1 / W, y0=py(pbot),
                           y1=py(top), line=dict(color=FRAME, width=1.6), layer="above"))

        # dotted response window with rounded corners
        if name in WINDOWS:
            a, b, c, d = WINDOWS[name]
            rt, rv = 0.7, 1.5
            path = (f"M {a + rt},{c} L {b - rt},{c} Q {b},{c} {b},{c + rv} L {b},{d - rv} Q {b},{d} {b - rt},{d} "
                    f"L {a + rt},{d} Q {a},{d} {a},{d - rv} L {a},{c + rv} Q {a},{c} {a + rt},{c} Z")
            shapes.append(dict(type="path", xref=xr, yref=yr, path=path,
                               line=dict(color="#6a6a6a", width=1.2, dash="dot"), layer="above"))

    # caption strip
    shapes.append(dict(type="rect", xref="paper", yref="paper", x0=58 / W, x1=590 / W, y0=py(sbot), y1=py(pbot),
                       fillcolor="white", line=dict(color=FRAME, width=1.6), layer="above"))
    text_y = (pbot + min(sbot, H)) / 2 + 0.5
    for text, x in zip(captions, cx):
        annotations.append(dict(text=f"<b>{text}</b>", x=x / W, y=py(text_y), xref="paper",
                                yref="paper", xanchor="center", yanchor="middle", showarrow=False,
                                font=dict(family=FONT, size=13, color="#111111")))

# calibration bars
for name, tc, vc in CALIBRATION:
    xr, yr = refs[name]
    shapes.append(dict(type="line", xref=xr, yref=yr, x0=tc, x1=tc, y0=vc, y1=vc + SCALE_UV,
                       line=dict(color="#111111", width=1.6)))
    shapes.append(dict(type="line", xref=xr, yref=yr, x0=tc, x1=tc + SCALE_MS, y0=vc, y1=vc,
                       line=dict(color="#111111", width=1.6)))
    annotations.append(dict(text=f"<b>{SCALE_UV}\u03bcv</b>", x=tc - 0.7, y=vc + 4.1, xref=xr, yref=yr,
                            xanchor="right", yanchor="middle", showarrow=False,
                            font=dict(family=FONT, size=9, color="#111111")))
    annotations.append(dict(text=f"<b>{SCALE_MS}ms</b>", x=tc + 2.2, y=vc - 2.4, xref=xr, yref=yr,
                            xanchor="center", yanchor="middle", showarrow=False,
                            font=dict(family=FONT, size=9, color="#111111")))

# section boxes and rotated titles
for (top, bot, ty), title in zip(SECTIONS, SECTION_TITLES):
    shapes.append(dict(type="rect", xref="paper", yref="paper", x0=11 / W, x1=590 / W, y0=py(bot), y1=py(top),
                       line=dict(color=FRAME, width=1.6), layer="above"))
    shapes.append(dict(type="line", xref="paper", yref="paper", x0=58 / W, x1=58 / W, y0=py(bot), y1=py(top),
                       line=dict(color=FRAME, width=1.6), layer="above"))
    annotations.append(dict(text=f"<b>{title}</b>", x=35 / W, y=py(ty), xref="paper", yref="paper",
                            textangle=-90, xanchor="center", yanchor="middle", showarrow=False,
                            font=dict(family=FONT, size=26, color="#111111")))

fig.update_layout(
    width=W, height=H, margin=dict(l=0, r=0, t=0, b=0), showlegend=False,
    paper_bgcolor="white", plot_bgcolor="rgba(0,0,0,0)", shapes=shapes, annotations=annotations, **axes)

fig.write_html("out.html", config={"displayModeBar": False})
